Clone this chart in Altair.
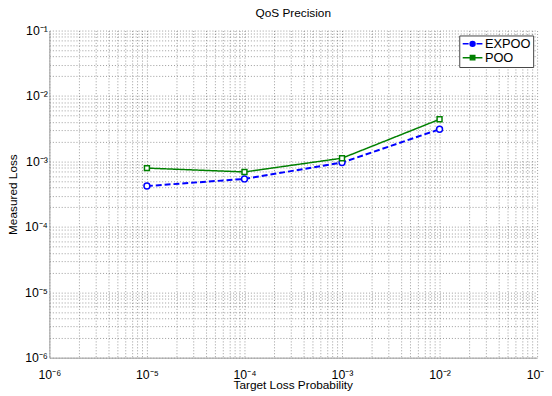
import altair as alt
import pandas as pd

target = [1e-5, 1e-4, 1e-3, 1e-2]
expoo = [4.2e-4, 5.4e-4, 9.6e-4, 3.1e-3]
poo = [7.9e-4, 6.9e-4, 1.12e-3, 4.4e-3]
series_names = ["EXPOO", "POO"]
colors = ["#0000ff", "#008000"]
dashes = [[6, 3], [1, 0]]
widths = [2, 1.5]
marker_shapes = ["circle", "square"]
marker_sizes = [36, 25]

rows = []
for name, vals in zip(series_names, [expoo, poo]):
    for x, y in zip(target, vals):
        rows.append({"series": name, "target": x, "measured": y})
df = pd.DataFrame(rows)

tick_values = [m * 10.0 ** k for k in range(-6, -1) for m in range(1, 10)] + [1e-1]

sup = "['\u2070','\u00b9','\u00b2','\u00b3','\u2074','\u2075','\u2076','\u2077','\u2078','\u2079']"
lg = "(log(datum.value)/LN10)"
label_expr = (
    f"abs({lg} - round({lg})) < 0.01 ? '10\u207b' + {sup}[-round({lg})] : ''"
)

FONT = "Liberation Sans"

def make_axis(title, orient):
    common = dict(
        values=tick_values,
        labelExpr=label_expr,
        labelOverlap=False,
        labelFlush=False,
        labelBound=False,
        ticks=False,
        grid=True,
        gridColor="#777777",
        gridDash=[1, 2],
        gridOpacity=0.75,
        gridWidth=1,
        domainColor="#999999",
        domainWidth=1,
        labelFont=FONT,
        labelFontSize=12.5,
        labelColor="black",
        titleFont=FONT,
        titleFontSize=12,
        titleFontWeight="normal",
        titleColor="black",
        titleBaseline="alphabetic",
        title=title,
    )
    if orient == "x":
        return alt.Axis(labelPadding=11, titleY=31, titleX=247, titleAlign="center", **common)
    return alt.Axis(labelPadding=2, titleX=-33, titleY=166, titleAlign="center", titleAngle=270, **common)

xs = alt.Scale(type="log", domain=[1e-6, 1e-1], nice=False)
ys = alt.Scale(type="log", domain=[1e-6, 1e-1], nice=False)

x_enc = alt.X("target:Q", scale=xs, axis=make_axis("Target Loss Probability", "x"))
y_enc = alt.Y("measured:Q", scale=ys, axis=make_axis("Measured Loss", "y"))

base = alt.Chart(df)

layers = []
for name, col, dash, w in zip(series_names, colors, dashes, widths):
    layers.append(
        base.transform_filter(alt.datum.series == name)
        .mark_line(clip=True, color=col, strokeDash=dash, strokeWidth=w)
        .encode(x=x_enc, y=y_enc)
    )
for name, col, shp, sz in zip(series_names, colors, marker_shapes, marker_sizes):
    layers.append(
        base.transform_filter(alt.datum.series == name)
        .mark_point(shape=shp, size=sz, filled=False, fill="white", stroke=col,
                    strokeWidth=1.5, opacity=1)
        .encode(x=x_enc, y=y_enc)
    )

path_expoo = ("M-2,0H-0.8M0.8,0H2"
              "M0.5,0A0.5,0.5,0,1,1,-0.5,0A0.5,0.5,0,1,1,0.5,0Z")
path_poo = "M-2,0H2M-0.45,-0.45H0.45V0.45H-0.45Z"

leg = alt.Legend(
    title=None,
    orient="none",
    legendX=416,
    legendY=5,
    padding=2,
    strokeColor="#444444",
    fillColor="white",
    labelFont=FONT,
    labelFontSize=13,
    labelColor="black",
    symbolSize=100,
    symbolStrokeWidth=1.5,
    symbolOpacity=1,
    symbolOffset=5,
    labelOffset=6,
    rowPadding=0,
)

legend_layer = base.mark_point(filled=True, opacity=0).encode(
    x=x_enc, y=y_enc,
    fill=alt.Fill("series:N", scale=alt.Scale(domain=series_names, range=colors), legend=leg),
    stroke=alt.Stroke("series:N", scale=alt.Scale(domain=series_names, range=colors), legend=leg),
    shape=alt.Shape("series:N", scale=alt.Scale(domain=series_names, range=[path_expoo, path_poo]), legend=leg),
)
layers.append(legend_layer)

chart = alt.layer(*layers).properties(
    width=495,
    height=332,
    title=alt.TitleParams(
        "QoS Precision", font=FONT, fontSize=12, fontWeight="normal",
        color="black", offset=5, anchor="middle"
    ),
    autosize=alt.AutoSizeParams(type="none"),
    padding={"left": 42, "top": 20, "right": 7, "bottom": 36},
).configure_view(stroke=None)

chart.save("out.html", embed_options={"renderer": "svg", "actions": False})
